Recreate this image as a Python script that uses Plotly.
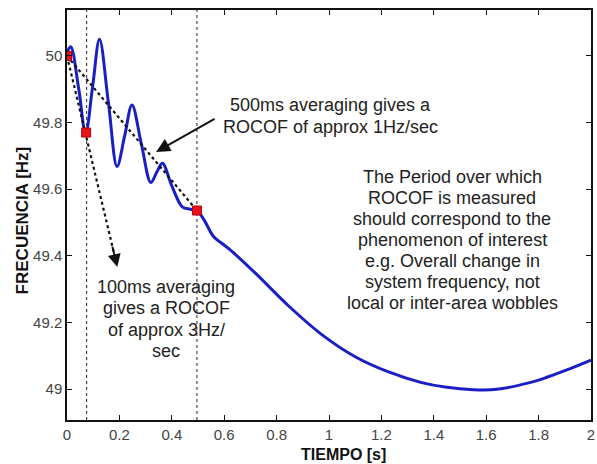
import plotly.graph_objects as go

# Frequency trace
tiempo = [0, 0.014, 0.045, 0.071, 0.098, 0.124, 0.158, 0.191, 0.22, 0.248, 0.284,
          0.32, 0.342, 0.364, 0.40, 0.44, 0.47, 0.496, 0.523, 0.56, 0.592, 0.624,
          0.72, 0.845, 0.97, 1.10, 1.225, 1.35, 1.45, 1.55, 1.64, 1.77, 1.82, 1.9, 2.0]
frecuencia = [50.01, 50.028, 49.90, 49.768, 49.91, 50.05, 49.86, 49.668, 49.76, 49.853, 49.735,
              49.62, 49.65, 49.678, 49.61, 49.547, 49.54, 49.536, 49.508, 49.457, 49.437, 49.417,
              49.347, 49.25, 49.165, 49.097, 49.052, 49.02, 49.005, 48.998, 48.999, 49.02, 49.032, 49.055, 49.087]

# Measurement points (red squares)
meas_t = [0.0, 0.073, 0.496]
meas_f = [50.0, 49.77, 49.536]

# Averaging window boundaries
window_t = [0.075, 0.496]

# ROCOF lines
rocof500_t = [0.0, 0.496]
rocof500_f = [50.0, 49.536]
rocof100_t = [0.0, 0.18]
rocof100_f = [50.0, 49.406]
rocof100_head = (0.192, 49.366)
rocof100_tail = (0.172, 49.432)

# Text blocks (one entry per line) and where they sit
text500_lines = ["500ms averaging gives a", "ROCOF of approx 1Hz/sec"]
text500_x = 1.005
text500_y = [49.853, 49.787]

text_period_lines = ["The Period over which", "ROCOF is measured", "should correspond to the",
                     "phenomenon of interest", "e.g. Overall change in",
                     "system frequency, not", "local or inter-area wobbles"]
text_period_x = 1.47
text_period_y = [49.637, 49.574, 49.511, 49.447, 49.384, 49.321, 49.258]

text100_lines = ["100ms averaging", "gives a ROCOF", "of approx 3Hz/", "sec"]
text100_x = 0.378
text100_y = [49.306, 49.243, 49.177, 49.114]

x_ticks = [0, 0.2, 0.4, 0.6, 0.8, 1.0, 1.2, 1.4, 1.6, 1.8, 2.0]
x_labels = ["0", "0.2", "0.4", "0.6", "0.8", "1", "1.2", "1.4", "1.6", "1.8", "2"]
y_ticks = [49.0, 49.2, 49.4, 49.6, 49.8, 50.0]
y_labels = ["49", "49.2", "49.4", "49.6", "49.8", "50"]

x_range = [0, 2.0]
y_range = [48.907, 50.138]

FONT = "Liberation Sans, Arial, Helvetica, sans-serif"

fig = go.Figure()

fig.add_trace(go.Scatter(x=tiempo, y=frecuencia, mode="lines",
                         line=dict(color="#1a1fc4", width=3, shape="spline", smoothing=1.0),
                         hoverinfo="skip"))

fig.add_trace(go.Scatter(x=rocof500_t, y=rocof500_f, mode="lines",
                         line=dict(color="#111", width=2.2, dash="dot"), hoverinfo="skip"))
fig.add_trace(go.Scatter(x=rocof100_t, y=rocof100_f, mode="lines",
                         line=dict(color="#111", width=2.2, dash="dot"), hoverinfo="skip"))

fig.add_trace(go.Scatter(x=meas_t, y=meas_f, mode="markers",
                         marker=dict(symbol="square", size=9, color="#e8141c",
                                     line=dict(color="#b00010", width=1)),
                         hoverinfo="skip"))

for wt in window_t:
    fig.add_shape(type="line", xref="x", yref="paper", x0=wt, x1=wt, y0=0, y1=1,
                  line=dict(color="#222", width=1, dash="dot"), layer="below")

annotations = []
txt_font = dict(size=18, color="#222", family=FONT)
for lines, xc, ys in [(text500_lines, text500_x, text500_y),
                      (text_period_lines, text_period_x, text_period_y),
                      (text100_lines, text100_x, text100_y)]:
    for line, yy in zip(lines, ys):
        annotations.append(dict(x=xc, y=yy, xref="x", yref="y", text=line,
                                showarrow=False, font=txt_font,
                                xanchor="center", yanchor="middle"))

annotations += [
    dict(x=0.34, y=49.712, ax=0.569, ay=49.814, xref="x", yref="y", axref="x", ayref="y",
         text="", showarrow=True, arrowhead=2, arrowsize=1.4, arrowwidth=2, arrowcolor="#111"),
    dict(x=rocof100_head[0], y=rocof100_head[1], ax=rocof100_tail[0], ay=rocof100_tail[1],
         xref="x", yref="y", axref="x", ayref="y",
         text="", showarrow=True, arrowhead=2, arrowsize=1.3, arrowwidth=2, arrowcolor="#111"),
    dict(x=0.528, y=-0.085, xref="paper", yref="paper", text="<b>TIEMPO [s]</b>",
         showarrow=False, font=dict(size=16, color="#111", family=FONT), yanchor="middle"),
    dict(x=-0.085, y=0.488, xref="paper", yref="paper", text="<b>FRECUENCIA [Hz]</b>",
         showarrow=False, textangle=-90, font=dict(size=17, color="#111", family=FONT),
         xanchor="center", yanchor="middle"),
]

fig.update_layout(
    width=597, height=464,
    margin=dict(l=67, r=2, t=10, b=44),
    paper_bgcolor="white", plot_bgcolor="white",
    showlegend=False,
    annotations=annotations,
    font=dict(family=FONT),
)

axis_common = dict(showgrid=False, zeroline=False, showline=True, linecolor="#111",
                   linewidth=1.5, mirror="ticks", ticks="inside", ticklen=5,
                   tickcolor="#111", tickwidth=1.2, ticklabeloverflow="allow",
                   tickfont=dict(size=15, color="#444", family=FONT))

fig.update_xaxes(range=x_range, tickvals=x_ticks, ticktext=x_labels, **axis_common)
fig.update_yaxes(range=y_range, tickvals=y_ticks, ticktext=y_labels, **axis_common)

# remove the default 8px page margin so the figure fills the window exactly
fig.write_html("out.html", config={"displayModeBar": False},
               post_script="document.body.style.margin='0';")
